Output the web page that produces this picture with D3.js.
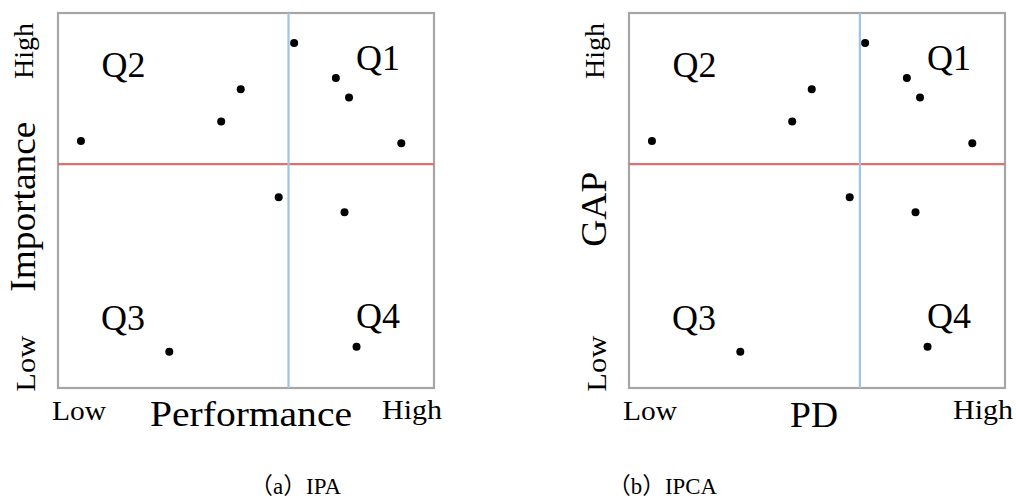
<!DOCTYPE html>
<html>
<head>
<meta charset="utf-8">
<script src="https://cdn.jsdelivr.net/npm/d3@7"></script>
<style>
  html, body { margin: 0; padding: 0; background: #fff; }
  svg { display: block; }
</style>
</head>
<body>
<svg id="chart" width="1016" height="502"></svg>
<script>
// Item scores on a 0–100 scale (low → high)
const ipaPerformance = [62.8, 73.9, 77.4, 48.6, 43.4, 6.1, 91.3, 58.7, 76.2, 29.6, 79.4];
const ipaImportance  = [92.0, 82.7, 77.5, 79.7, 71.1, 65.9, 65.3, 50.9, 46.9, 9.7, 11.0];
const ipcaPD         = [62.8, 73.9, 77.4, 48.6, 43.4, 6.1, 91.3, 58.7, 76.2, 29.6, 79.4];
const ipcaGap        = [92.0, 82.7, 77.5, 79.7, 71.1, 65.9, 65.3, 50.9, 46.9, 9.7, 11.0];

// Quadrant split points (means)
const splitX = [61.3, 61.4];
const splitY = [59.7, 59.7];

const quadrantLabels = ["Q1", "Q2", "Q3", "Q4"];
const endLabels = ["Low", "High"];
const xTitles = ["Performance", "PD"];
const yTitles = ["Importance", "GAP"];
const captions = ["（a）IPA", "（b）IPCA"];

const SERIF = "'Liberation Serif', 'Times New Roman', serif";
const CJK = "'Noto Sans CJK SC', sans-serif";

const panels = [
  { left: 58,  xs: ipaPerformance, ys: ipaImportance },
  { left: 629, xs: ipcaPD,         ys: ipcaGap }
];

const W = 376, H = 375, TOP = 13;
const svg = d3.select("#chart");

const x = d3.scaleLinear().domain([0, 100]).range([0, W]);
const y = d3.scaleLinear().domain([0, 100]).range([H, 0]);

function label(sel, txt, size, len) {
  const t = sel.append("text")
    .style("font-family", SERIF)
    .attr("font-size", size)
    .attr("fill", "#000")
    .text(txt);
  if (len) t.attr("textLength", len).attr("lengthAdjust", "spacingAndGlyphs");
  return t;
}

panels.forEach((p, i) => {
  const g = svg.append("g").attr("transform", `translate(${p.left},${TOP})`);

  // frame
  g.append("rect")
    .attr("x", 0).attr("y", 0).attr("width", W).attr("height", H)
    .attr("fill", "none").attr("stroke", "#a6a6a6").attr("stroke-width", 2.2);

  // quadrant dividers
  g.append("line")
    .attr("x1", 0).attr("x2", W)
    .attr("y1", y(splitY[i])).attr("y2", y(splitY[i]))
    .attr("stroke", "#e07070").attr("stroke-width", 2.2);
  g.append("line")
    .attr("x1", x(splitX[i])).attr("x2", x(splitX[i]))
    .attr("y1", 0).attr("y2", H)
    .attr("stroke", "#9dc3e6").attr("stroke-width", 2.2);

  // items
  g.selectAll("circle.pt")
    .data(d3.zip(p.xs, p.ys))
    .join("circle")
    .attr("class", "pt")
    .attr("cx", d => x(d[0]))
    .attr("cy", d => y(d[1]))
    .attr("r", 4)
    .attr("fill", "#000");

  // quadrant names
  const qPos = [[298, 57], [43.5, 63.7], [43, 317], [298, 315.3]];
  quadrantLabels.forEach((q, k) => {
    label(g, q, 35, 44).attr("x", qPos[k][0]).attr("y", qPos[k][1]);
  });

  // low / high markers on x
  label(g, endLabels[0], 27, 54).attr("x", -6).attr("y", 407);
  label(g, endLabels[1], 27, 60).attr("x", W + 8).attr("y", 406).attr("text-anchor", "end");

  // low / high markers on y (rotated)
  label(g, endLabels[0], 27, 56)
    .attr("transform", `translate(-23,${H + 3.7}) rotate(-90)`);
  label(g, endLabels[1], 27, 56)
    .attr("transform", `translate(-25,10) rotate(-90)`)
    .attr("text-anchor", "end");
});

// axis titles
label(svg, xTitles[0], 36, 202).attr("x", 150).attr("y", 426);
label(svg, xTitles[1], 36, 48).attr("x", 790).attr("y", 426.5);
label(svg, yTitles[0], 36, 170).attr("transform", "translate(35,291.7) rotate(-90)");
label(svg, yTitles[1], 36, 75).attr("transform", "translate(606,246.7) rotate(-90)");

// panel captions: full-width brackets in CJK face, letters in serif
[[250, 91], [608, 109]].forEach(([cx, len], k) => {
  const t = svg.append("text")
    .attr("font-size", 23)
    .attr("fill", "#000")
    .attr("x", cx).attr("y", 494)
    .attr("textLength", len).attr("lengthAdjust", "spacingAndGlyphs");
  const m = captions[k].match(/^（(.)）(.*)$/);
  t.append("tspan").style("font-family", CJK).text("（");
  t.append("tspan").style("font-family", SERIF).text(m[1]);
  t.append("tspan").style("font-family", CJK).text("）");
  t.append("tspan").style("font-family", SERIF).text(m[2]);
});
</script>
</body>
</html>
